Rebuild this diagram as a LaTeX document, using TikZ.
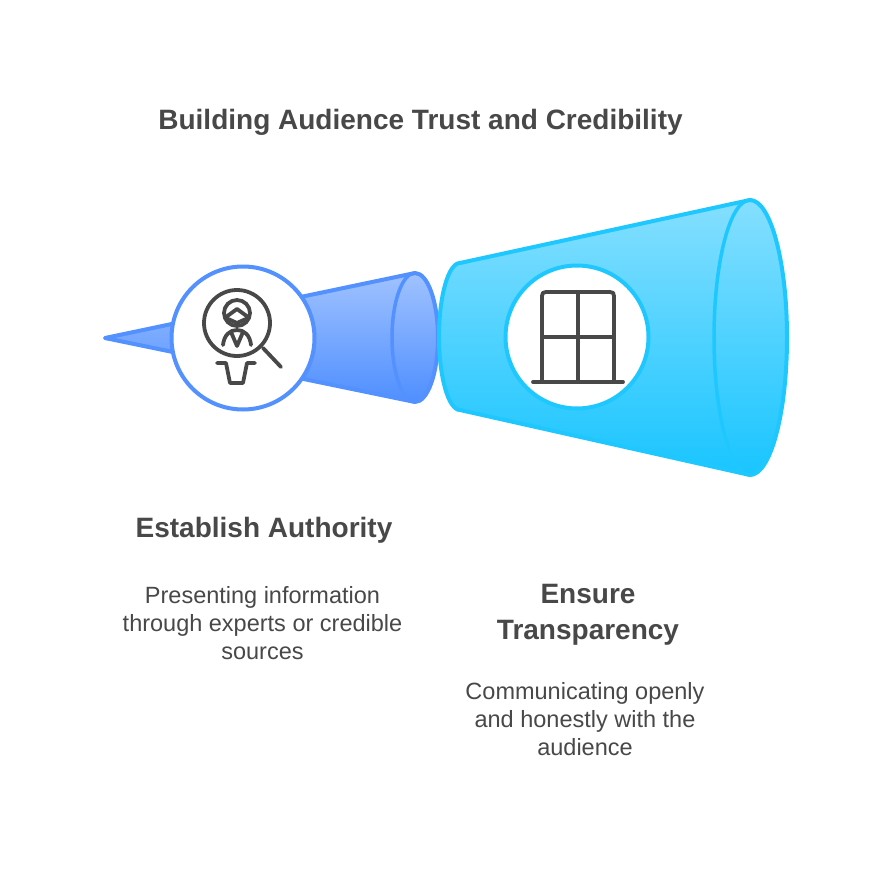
\documentclass[tikz,border=0pt]{standalone}
\usepackage{fontspec}
\setmainfont{Liberation Sans}
\usepackage{xcolor}
\definecolor{ink}{HTML}{484848}
\definecolor{blueline}{HTML}{5291FF}
\definecolor{bluetop}{HTML}{A0C2FF}
\definecolor{bluelow}{HTML}{4F8FFF}
\definecolor{cyanline}{HTML}{1EC8FF}
\definecolor{cyantop}{HTML}{85DFFF}
\definecolor{cyanlow}{HTML}{19C5FF}
\tikzset{
  conea/.style={draw=blueline, line width=4pt, line join=round, top color=bluetop, bottom color=bluelow},
  coneb/.style={draw=cyanline, line width=4pt, line join=round, top color=cyantop, bottom color=cyanlow},
  rima/.style={draw=blueline, line width=3.5pt},
  rimb/.style={draw=cyanline, line width=3.5pt},
  disc/.style={circle, fill=white, line width=4pt, minimum size=143pt, inner sep=0pt},
  icon/.style={draw=ink, line width=3.8pt, line cap=round, line join=round},
  head/.style={text=ink, font=\bfseries\fontsize{28}{36}\selectfont, align=center},
  title/.style={text=ink, font=\bfseries\fontsize{28}{36}\selectfont},
  body/.style={text=ink, font=\fontsize{23.5}{28}\selectfont, align=center},
}
\begin{document}
\begin{tikzpicture}[x=1pt,y=-1pt]
  \useasboundingbox (0,0) rectangle (883,888);
  \fill[white] (0,0) rectangle (883,888);

  % small cone
  \draw[conea] (105,338) -- (415,273) arc[start angle=-90,end angle=90,x radius=23,y radius=64.5] -- cycle;
  \draw[rima] (415,273) arc[start angle=-90,end angle=-270,x radius=23,y radius=64.5];

  % big cone
  \draw[coneb] (460,263) -- (750,200) arc[start angle=-90,end angle=90,x radius=37,y radius=137.5]
    -- (460,410) arc[start angle=90,end angle=270,x radius=21,y radius=73.5] -- cycle;
  \draw[rimb] (750,200) arc[start angle=-90,end angle=-270,x radius=36,y radius=137.5];

  \node[disc,draw=blueline] (discA) at (243,338) {};
  \node[disc,draw=cyanline] (discB) at (577,337) {};

  % magnifier
  \draw[icon] (237,323) circle (33);
  \draw[icon] (263,348) -- (281,367);
  \draw[icon] (237,313) circle (13);
  \draw[icon] (226,317) -- (237,309) -- (248,317);
  \draw[icon] (226,318) -- (237,323) -- (248,318);
  \draw[icon] (223,345) .. controls (224,335) and (230,330) .. (237,330) .. controls (244,330) and (250,335) .. (251,345);
  \draw[icon] (231,332) -- (237,346) -- (243,332);
  \draw[icon] (217,363) -- (226,363) -- (230,383) -- (243,383) -- (247,363) -- (255,363);

  % window
  \draw[icon] (542,382) -- (542,296) .. controls (542,293) and (543,292) .. (546,292) -- (610,292) .. controls (613,292) and (614,293) .. (614,296) -- (614,382);
  \draw[icon] (578,292) -- (578,382);
  \draw[icon] (542,337) -- (614,337);
  \draw[icon] (533,382) -- (623,382);

  \node[title] (titleA) at (420.5,122) {Building Audience Trust and Credibility};
  \node[head] (headA) at (264,530) {Establish Authority};
  \node[body] (textA) at (262.5,623) {Presenting information\\through experts or credible\\sources};
  \node[head] (headB) at (588,615) {Ensure\\Transparency};
  \node[body] (textB) at (585,719) {Communicating openly\\and honestly with the\\audience};
\end{tikzpicture}
\end{document}
